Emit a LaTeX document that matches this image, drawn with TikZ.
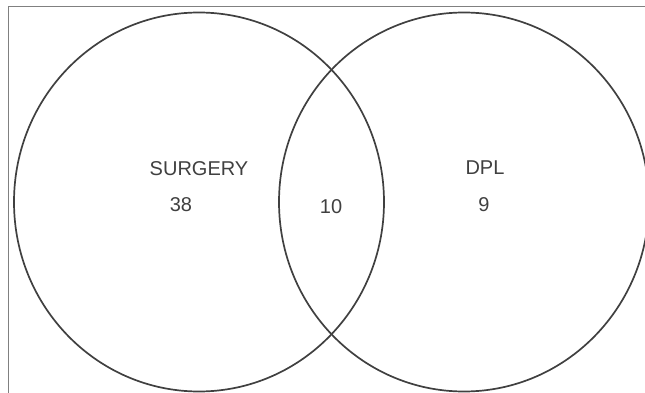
\documentclass[tikz,border=0pt]{standalone}
\usepackage{fontspec}
\setmainfont{Liberation Sans}
\usetikzlibrary{shapes.geometric}
\definecolor{ink}{HTML}{404040}
\definecolor{framec}{HTML}{808080}
\begin{document}
\begin{tikzpicture}[x=1pt,y=-1pt,
  setcircle/.style={ellipse, draw=ink, line width=1.7pt, minimum width=370pt, minimum height=379pt, inner sep=0pt},
  lbl/.style={text=ink, font=\fontsize{20}{24}\selectfont, inner sep=0pt, anchor=center},
  framestyle/.style={draw=framec, line width=1pt}]
\useasboundingbox (0,0) rectangle (645,393);
\clip (0,0) rectangle (645,393);
\coordinate (ftl) at (8,7);
\coordinate (fbl) at (8,393);
\coordinate (ftr) at (645,7);
\draw[framestyle] (fbl) -- (ftl) -- (ftr);
\node[setcircle] (surgery) at (199,202) {};
\node[setcircle] (dpl) at (464,202) {};
\node[lbl] (surgerylbl) at (199,169) {SURGERY};
\node[lbl] (n38) at (181,205) {38};
\node[lbl] (n10) at (331,207) {10};
\node[lbl] (dpllbl) at (485,168) {DPL};
\node[lbl] (n9) at (484,205) {9};
\end{tikzpicture}
\end{document}
